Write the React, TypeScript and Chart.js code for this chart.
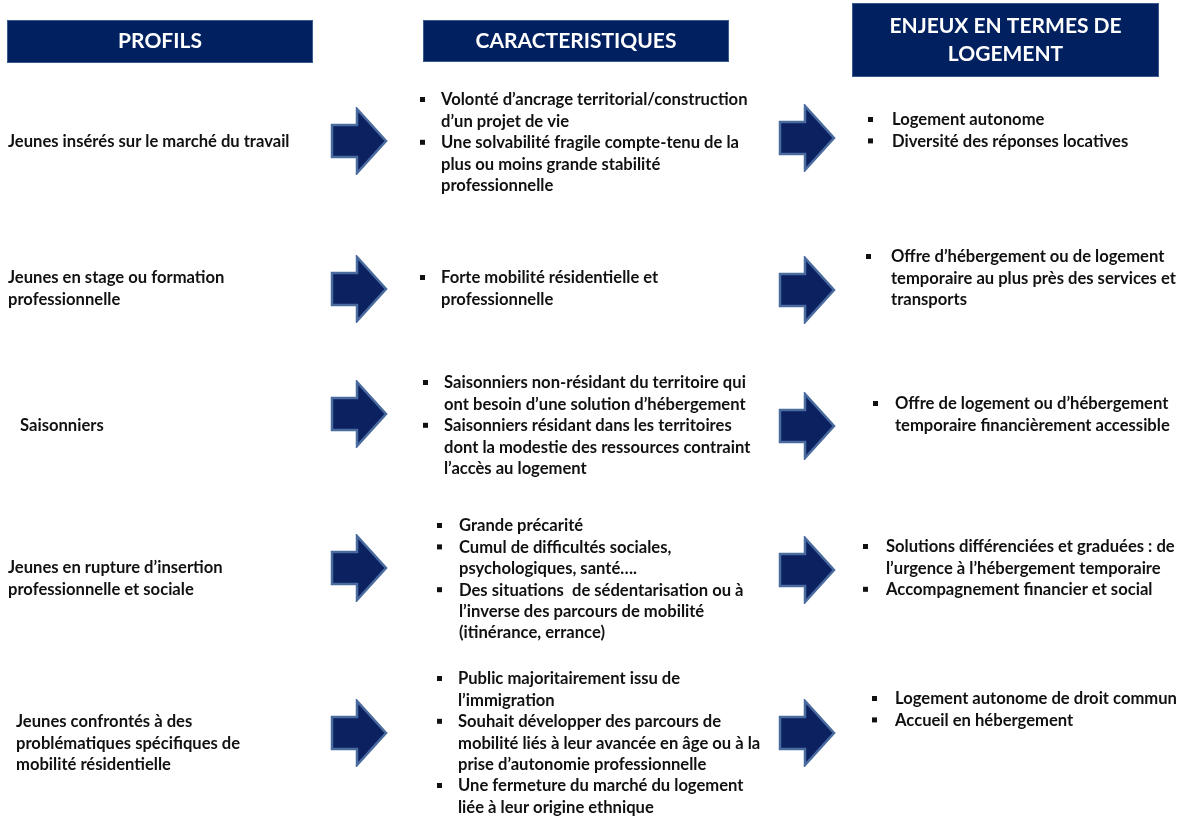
import React, { useEffect, useRef } from "react";
import { Chart, registerables } from "chart.js";

Chart.register(...registerables);

// ---------- data ----------
const headerTitles: string[][] = [["PROFILS"], ["CARACTERISTIQUES"], ["ENJEUX EN TERMES DE", "LOGEMENT"]];
const headerLeft = [7, 423, 852];
const headerRight = [313, 729, 1159];
const headerTop = [20, 20, 3];
const headerBottom = [63, 62, 77];

const profileLines: string[][] = [
  ["Jeunes insérés sur le marché du travail"],
  ["Jeunes en stage ou formation", "professionnelle"],
  ["Saisonniers"],
  ["Jeunes en rupture d’insertion", "professionnelle et sociale"],
  ["Jeunes confrontés à des", "problématiques spécifiques de", "mobilité résidentielle"],
];
const profileX = [8, 8, 20, 8, 16];
const profileY0 = [142, 278, 426, 568, 722];

const caracItems: string[][][] = [
  [
    ["Volonté d’ancrage territorial/construction", "d’un projet de vie"],
    ["Une solvabilité fragile compte-tenu de la", "plus ou moins grande stabilité", "professionnelle"],
  ],
  [["Forte mobilité résidentielle et", "professionnelle"]],
  [
    ["Saisonniers non-résidant du territoire qui", "ont besoin d’une solution d’hébergement"],
    ["Saisonniers résidant dans les territoires", "dont la modestie des ressources contraint", "l’accès au logement"],
  ],
  [
    ["Grande précarité"],
    ["Cumul de difficultés sociales,", "psychologiques, santé…."],
    ["Des situations  de sédentarisation ou à", "l’inverse des parcours de mobilité", "(itinérance, errance)"],
  ],
  [
    ["Public majoritairement issu de", "l’immigration"],
    ["Souhait développer des parcours de", "mobilité liés à leur avancée en âge ou à la", "prise d’autonomie professionnelle"],
    ["Une fermeture du marché du logement", "liée à leur origine ethnique"],
  ],
];
const caracBulletX = [420, 420, 423, 437, 437];
const caracTextX = [441, 441, 444, 459, 458];
const caracY0 = [100, 278, 383, 526, 679];

const enjeuxItems: string[][][] = [
  [["Logement autonome"], ["Diversité des réponses locatives"]],
  [["Offre d’hébergement ou de logement", "temporaire au plus près des services et", "transports"]],
  [["Offre de logement ou d’hébergement", "temporaire financièrement accessible"]],
  [["Solutions différenciées et graduées : de", "l’urgence à l’hébergement temporaire"], ["Accompagnement financier et social"]],
  [["Logement autonome de droit commun"], ["Accueil en hébergement"]],
];
const enjeuxBulletX = [868, 866, 873, 863, 872];
const enjeuxTextX = [892, 891, 895, 886, 895];
const enjeuxY0 = [120, 257, 404, 547, 699];

const arrowLeftX = [359, 359, 359, 359, 359];
const arrowLeftY = [141, 289, 414, 568, 733];
const arrowRightX = [807, 807, 807, 807, 807];
const arrowRightY = [138, 290, 426, 570, 733];

// ---------- styles ----------
const NAVY = "#002060";
const ARROW_FILL = "#0c2160";
const ARROW_EDGE = "#4a6b9e";
const TEXT = "#111111";
const FONT = "Lato, 'Open Sans', sans-serif";
const BODY_SIZE = 16.6;
const HEAD_SIZE = 21;
const LINE_STEP = 21.4;

function makeArrow(): HTMLCanvasElement {
  const c = document.createElement("canvas");
  const w = 58, h = 68;
  c.width = w; c.height = h;
  const g = c.getContext("2d")!;
  const L = 2, R = 56, T = 2, B = 66, mid = 34, headX = 27, sT = 18, sB = 50;
  g.beginPath();
  g.moveTo(L, sT);
  g.lineTo(headX, sT);
  g.lineTo(headX, T);
  g.lineTo(R, mid);
  g.lineTo(headX, B);
  g.lineTo(headX, sB);
  g.lineTo(L, sB);
  g.closePath();
  g.fillStyle = ARROW_FILL;
  g.fill();
  g.lineWidth = 2.5;
  g.strokeStyle = ARROW_EDGE;
  g.lineJoin = "miter";
  g.stroke();
  return c;
}

const diagramPlugin = {
  id: "diagram",
  afterDatasetsDraw(chart: any) {
    const ctx: CanvasRenderingContext2D = chart.ctx;
    const xs = chart.scales.x;
    const ys = chart.scales.y;
    const px = (v: number) => xs.getPixelForValue(v);
    const py = (v: number) => ys.getPixelForValue(v);
    ctx.save();
    // headers
    headerTitles.forEach((lines, i) => {
      const x0 = px(headerLeft[i]), x1 = px(headerRight[i]);
      const y0 = py(headerTop[i]), y1 = py(headerBottom[i]);
      ctx.fillStyle = NAVY;
      ctx.fillRect(x0, y0, x1 - x0, y1 - y0);
      ctx.strokeStyle = "#3b5a8c";
      ctx.lineWidth = 1;
      ctx.strokeRect(x0 + 0.5, y0 + 0.5, x1 - x0 - 1, y1 - y0 - 1);
      ctx.fillStyle = "#ffffff";
      ctx.font = `bold ${HEAD_SIZE}px ${FONT}`;
      ctx.textAlign = "center";
      ctx.textBaseline = "middle";
      const cy = (y0 + y1) / 2;
      const step = 28;
      lines.forEach((t, k) => {
        ctx.fillText(t, (x0 + x1) / 2, cy + (k - (lines.length - 1) / 2) * step);
      });
    });
    ctx.font = `bold ${BODY_SIZE}px ${FONT}`;
    ctx.textAlign = "left";
    ctx.textBaseline = "middle";
    ctx.fillStyle = TEXT;
    // profiles
    profileLines.forEach((lines, i) => {
      lines.forEach((t, k) => ctx.fillText(t, px(profileX[i]), py(profileY0[i] + k * LINE_STEP)));
    });
    const drawBullets = (items: string[][][], bx: number[], tx: number[], y0: number[]) => {
      items.forEach((block, i) => {
        let line = 0;
        block.forEach((item) => {
          const by = py(y0[i] + line * LINE_STEP);
          ctx.fillRect(px(bx[i]), by - 3, 5, 5);
          item.forEach((t) => {
            ctx.fillText(t, px(tx[i]), py(y0[i] + line * LINE_STEP));
            line++;
          });
        });
      });
    };
    drawBullets(caracItems, caracBulletX, caracTextX, caracY0);
    drawBullets(enjeuxItems, enjeuxBulletX, enjeuxTextX, enjeuxY0);
    ctx.restore();
  },
};

export default function App() {
  const ref = useRef<HTMLCanvasElement | null>(null);
  useEffect(() => {
    if (!ref.current) return;
    const arrow = makeArrow();
    const chart = new Chart(ref.current, {
      type: "scatter",
      data: {
        datasets: [
          {
            label: "arrows-left",
            data: arrowLeftX.map((x, i) => ({ x, y: arrowLeftY[i] })),
            pointStyle: arrow as any,
            pointRadius: 30,
          },
          {
            label: "arrows-right",
            data: arrowRightX.map((x, i) => ({ x, y: arrowRightY[i] })),
            pointStyle: arrow as any,
            pointRadius: 30,
          },
        ],
      },
      options: {
        animation: false,
        responsive: true,
        maintainAspectRatio: false,
        layout: { padding: 0, autoPadding: false },
        events: [],
        plugins: { legend: { display: false }, tooltip: { enabled: false }, title: { display: false } },
        scales: {
          x: { type: "linear", min: 0, max: 1185, display: false },
          y: { type: "linear", min: 0, max: 816, reverse: true, display: false },
        },
      },
      plugins: [diagramPlugin],
    });
    return () => chart.destroy();
  }, []);
  return (
    <div style={{ position: "fixed", left: 0, top: 0, width: 1185, height: 816, background: "#fff" }}>
      <canvas ref={ref} />
    </div>
  );
}
